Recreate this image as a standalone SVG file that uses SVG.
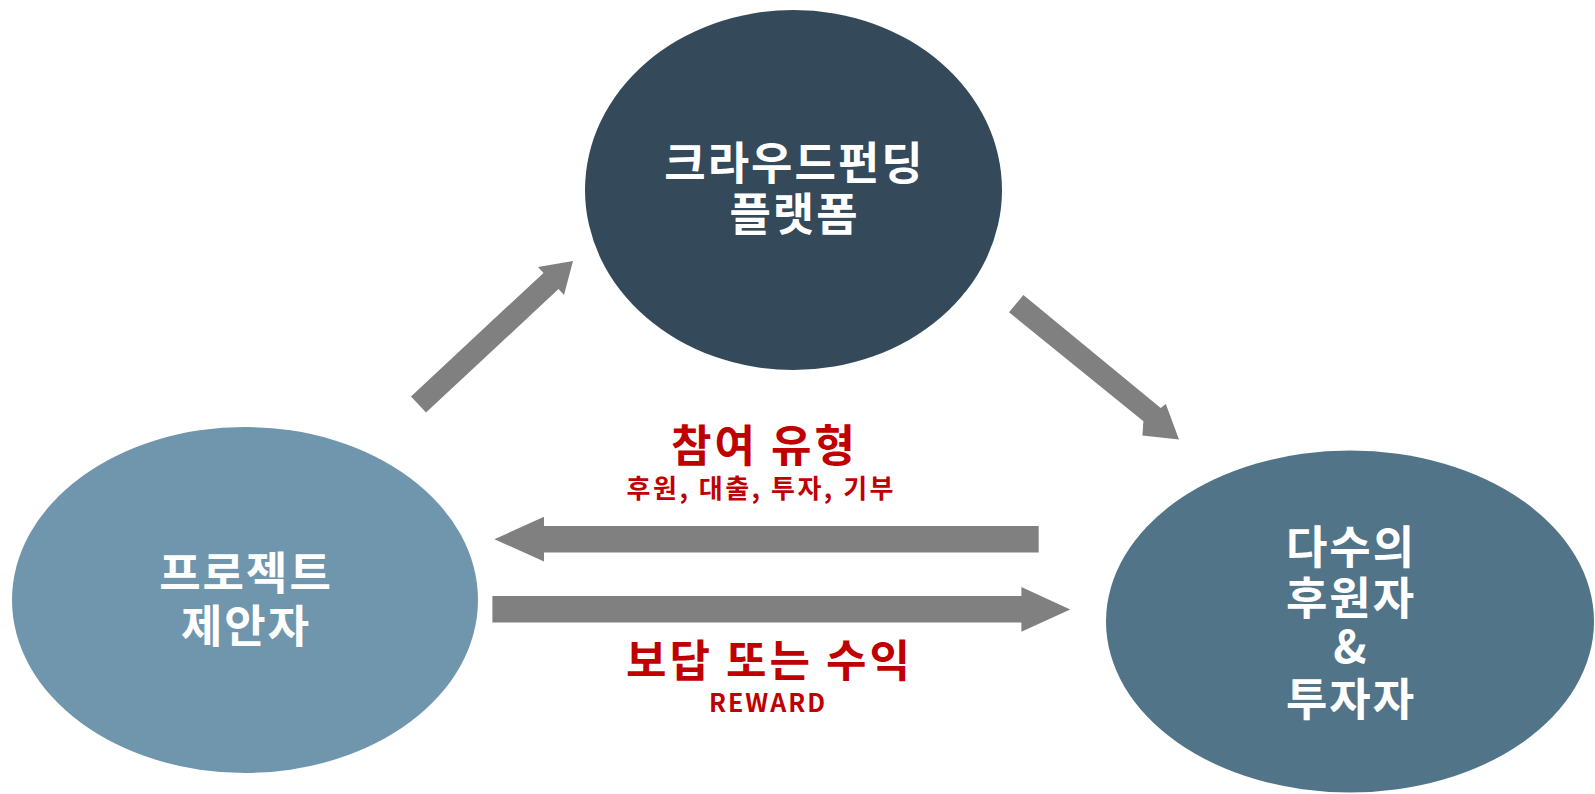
<svg xmlns="http://www.w3.org/2000/svg" width="1595" height="794" viewBox="0 0 1595 794">
<style>
.w{fill:#fff;font-family:"Noto Sans CJK KR","Noto Sans",sans-serif;font-weight:bold;font-size:45px;letter-spacing:2px;text-anchor:middle}
.r{fill:#C00000;font-family:"Noto Sans CJK KR","Noto Sans",sans-serif;font-weight:bold;text-anchor:middle}
.a{fill:#808080}
</style>
<rect width="1595" height="794" fill="#fff"/>
<g id="platform">
<ellipse cx="793.5" cy="190" rx="208.5" ry="180" fill="#344A5A"/>
<text class="w" x="794.5" y="180">크라우드펀딩</text>
<text class="w" x="794.5" y="231">플랫폼</text>
</g>
<g id="proposer">
<ellipse cx="245" cy="600" rx="233" ry="173" fill="#7096AE"/>
<text class="w" x="246" y="590">프로젝트</text>
<text class="w" x="246" y="643">제안자</text>
</g>
<g id="backers">
<ellipse cx="1350" cy="621.5" rx="244" ry="171" fill="#517489"/>
<text class="w" x="1351" y="564">다수의</text>
<text class="w" x="1351" y="615">후원자</text>
<text class="w" x="1351" y="663">&amp;</text>
<text class="w" x="1351" y="716">투자자</text>
</g>
<g id="connectors">
<polygon class="a" points="411,396.4 426,412.6 558.5,289.1 564,295 573,261 538,267 543.5,272.9"/>
<polygon class="a" points="1023.4,295 1009,312.3 1143.4,421.2 1142.4,435.4 1179,439.5 1165.8,403.9 1160.7,408"/>
<polygon class="a" points="1038.7,526 1038.7,552.4 544,552.4 544,561.5 494.4,539.2 544,516.8 544,526"/>
<polygon class="a" points="492.4,596.1 1021.4,596.1 1021.4,587 1070.2,609.4 1021.4,631.7 1021.4,622.6 492.4,622.6"/>
</g>
<g id="labels">
<text class="r" x="764.5" y="462" font-size="44" letter-spacing="3">참여 유형</text>
<text class="r" x="761.3" y="498" font-size="26" letter-spacing="2.5">후원, 대출, 투자, 기부</text>
<text class="r" x="769.5" y="677" font-size="44" letter-spacing="3">보답 또는 수익</text>
<text class="r" x="768" y="712" font-size="25" letter-spacing="2">REWARD</text>
</g>
</svg>
